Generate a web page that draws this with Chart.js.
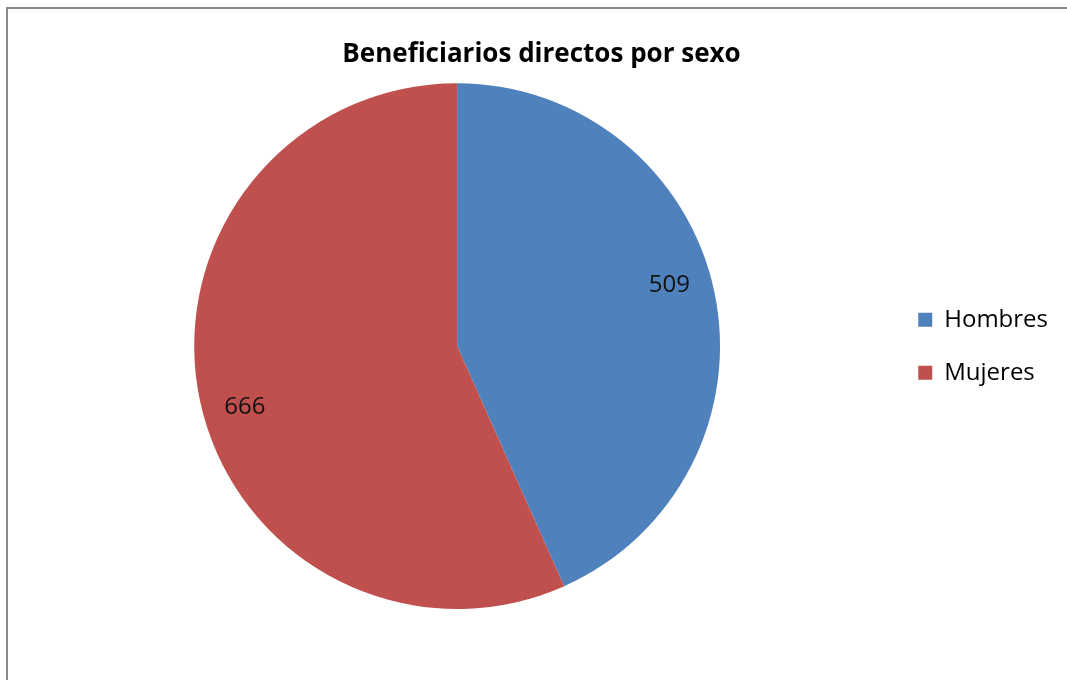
<!DOCTYPE html>
<html>
<head>
<meta charset="utf-8">
<script src="https://cdn.jsdelivr.net/npm/chart.js@4.4.0/dist/chart.umd.min.js"></script>
<style>
  body { margin: 0; background: #fff; }
  #wrap { position: relative; width: 1067px; height: 680px; }
  #frame {
    position: absolute; left: 6px; top: 7px; right: -10px; bottom: -10px;
    border-left: 2px solid #8a8a8a; border-top: 2px solid #8a8a8a;
    pointer-events: none;
  }
</style>
</head>
<body>
<div id="wrap">
  <canvas id="chart-space" width="1067" height="680"></canvas>
  <div id="frame"></div>
</div>
<script>
const categories = ['Hombres', 'Mujeres'];
const counts = [509, 666];
const colors = ['#4F81BD', '#C0504D'];

// draws the value inside each slice, like the excel labels
const sliceLabels = {
  id: 'sliceLabels',
  afterDatasetsDraw(chart) {
    const ctx = chart.ctx;
    const meta = chart.getDatasetMeta(0);
    ctx.save();
    ctx.font = '24px "Open Sans"';
    ctx.fillStyle = '#111';
    ctx.textAlign = 'center';
    ctx.textBaseline = 'middle';
    meta.data.forEach((arc, i) => {
      const p = arc.getProps(['x', 'y', 'startAngle', 'endAngle', 'outerRadius'], true);
      const mid = (p.startAngle + p.endAngle) / 2 - 0.07;
      const r = p.outerRadius * 0.84;
      ctx.fillText(String(counts[i]), p.x + Math.cos(mid) * r, p.y + Math.sin(mid) * r);
    });
    ctx.restore();
  }
};

Chart.defaults.font.family = '"Open Sans"';

new Chart(document.getElementById('chart-space'), {
  type: 'pie',
  data: {
    labels: categories,
    datasets: [{
      data: counts,
      backgroundColor: colors,
      borderWidth: 0
    }]
  },
  options: {
    responsive: false,
    animation: false,
    layout: { padding: { top: 27, bottom: 71, left: 25, right: 9 } },
    plugins: {
      title: {
        display: true,
        text: 'Beneficiarios directos por sexo',
        color: '#000',
        font: { size: 26, weight: 'bold', lineHeight: 1.2 },
        padding: { top: 12, bottom: 13 }
      },
      legend: {
        position: 'right',
        title: { display: true, text: ' ', font: { size: 12, lineHeight: 1.2 }, padding: { top: 42, bottom: 0 } },
        labels: {
          color: '#000',
          font: { size: 24 },
          boxWidth: 14,
          boxHeight: 14,
          padding: 29
        }
      },
      tooltip: { enabled: false }
    }
  },
  plugins: [sliceLabels]
});
</script>
</body>
</html>
